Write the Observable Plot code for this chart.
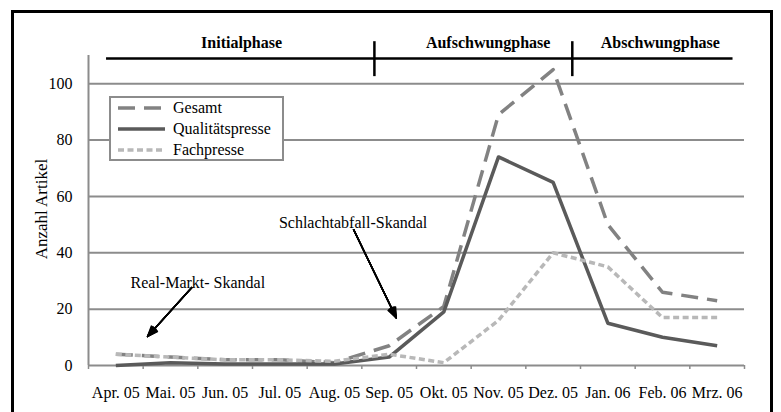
<!DOCTYPE html>
<html><head><meta charset="utf-8">
<script src="https://cdn.jsdelivr.net/npm/d3@7"></script>
<script src="https://cdn.jsdelivr.net/npm/@observablehq/plot@0.6"></script>
<style>
body{margin:0;background:#fff;}
#wrap{position:relative;width:781px;height:412px;overflow:hidden;font-family:"Times New Roman","Liberation Serif",Times,serif;background:#fff;}
#frame{position:absolute;left:11px;top:10px;width:762px;height:440px;border:3px solid #000;box-sizing:border-box;pointer-events:none;}
#legend{position:absolute;left:109px;top:96px;}
</style></head><body>
<div id="wrap"><div id="chart"></div><div id="legend"></div><div id="frame"></div></div>
<script>
// ---- data ----
const months = ["Apr. 05","Mai. 05","Jun. 05","Jul. 05","Aug. 05","Sep. 05","Okt. 05","Nov. 05","Dez. 05","Jan. 06","Feb. 06","Mrz. 06"];
const gesamt = [4, 3, 2, 2, 1, 7, 21, 89, 105, 50, 26, 23];
const qualitaetspresse = [0, 1, 0.5, 0.5, 0.5, 3, 19, 74, 65, 15, 10, 7];
const fachpresse = [4, 3, 2, 2, 1.5, 4, 1, 16, 40, 35, 17, 17];
const seriesNames = ["Gesamt", "Qualitätspresse", "Fachpresse"];
const yTicks = [0, 20, 40, 60, 80, 100];
const yTitle = "Anzahl Artikel";
const phaseNames = ["Initialphase", "Aufschwungphase", "Abschwungphase"];
const annotationTexts = ["Schlachtabfall-Skandal", "Real-Markt- Skandal"];

// ---- annotation placement (in data units: x = month index, y = Anzahl) ----
const phaseLabelX = [2.3, 6.81, 9.96];
const phaseLabelY = 114.4;
const phaseBarX = [-0.17, 11.29];
const phaseBarY = 108.9;
const phaseDividerX = [4.73, 8.35];
const phaseDividerY = [102.5, 114.9];
const annotationPos = [[4.34, 50.7], [1.5, 29.4]];
const arrowPos = [[4.35, 48.2, 5.13, 16.9], [1.39, 27.7, 0.58, 10.3]];

// ---- styles ----
const FONT = "'Times New Roman', 'Liberation Serif', Times, serif";
const seriesStyle = {
  "Gesamt": {stroke: "#828282", dash: "17,9"},
  "Qualitätspresse": {stroke: "#5a5a5a", dash: null},
  "Fachpresse": {stroke: "#b8b8b8", dash: "6,3.5"}
};
const gridColor = "#8c8c8c";

const seriesValues = [gesamt, qualitaetspresse, fachpresse];
const idx = months.map((_, i) => i);
const boundaries = d3.range(-0.5, 12, 1);

const lineMarks = seriesNames.map((name, s) => Plot.line(seriesValues[s], {
  x: (d, i) => i, y: d => d,
  stroke: seriesStyle[name].stroke, strokeWidth: 3.5,
  strokeDasharray: seriesStyle[name].dash || undefined,
  strokeLinejoin: "round", strokeLinecap: "butt"
}));

// filled-looking arrowheads: overlay heads of decreasing angle
const arrowMarks = [44, 36, 28, 20, 12, 4].map(a => Plot.arrow(arrowPos, {
  x1: d => d[0], y1: d => d[1], x2: d => d[2], y2: d => d[3],
  stroke: "#000", strokeWidth: 1.5, headLength: 11, headAngle: a
}));

const chart = Plot.plot({
  width: 781, height: 412,
  marginLeft: 88, marginRight: 37, marginTop: 55, marginBottom: 47,
  x: {domain: [-0.5, 11.5]},
  y: {domain: [0, 110]},
  style: {fontFamily: FONT, fontSize: "16px", background: "transparent", color: "#000", overflow: "visible"},
  marks: [
    Plot.ruleY(yTicks.filter(d => d > 0), {stroke: gridColor, strokeWidth: 2}),
    Plot.ruleY([0], {stroke: gridColor, strokeWidth: 2}),
    Plot.ruleX([-0.5], {y1: 0, y2: 110, stroke: gridColor, strokeWidth: 2}),
    Plot.axisX({ticks: boundaries, tickSize: 4, tickFormat: () => "", stroke: gridColor, strokeWidth: 1.5}),
    Plot.axisX({ticks: idx, tickSize: 0, tickPadding: 21, tickFormat: i => months[i], fontSize: 16, label: null}),
    Plot.axisY({ticks: yTicks, tickSize: 0, tickPadding: 16, fontSize: 16, label: null}),
    Plot.text([yTitle], {x: -0.5, y: 55.5, dx: -47, rotate: -90, fontSize: 17, text: d => d}),
    ...lineMarks,
    // phase bar
    Plot.ruleY([phaseBarY], {x1: phaseBarX[0], x2: phaseBarX[1], stroke: "#000", strokeWidth: 2.5}),
    Plot.ruleX(phaseDividerX, {y1: phaseDividerY[0], y2: phaseDividerY[1], stroke: "#000", strokeWidth: 2.5}),
    Plot.text(phaseNames, {x: (d, i) => phaseLabelX[i], y: phaseLabelY, text: d => d, fontWeight: "bold", fontSize: 16}),
    // annotations
    Plot.text(annotationTexts, {x: (d, i) => annotationPos[i][0], y: (d, i) => annotationPos[i][1], text: d => d, fontSize: 16}),
    ...arrowMarks
  ]
});
document.getElementById("chart").appendChild(chart);

// legend
const rowsY = [12, 33, 54];
let lg = `<svg width="176" height="66" style="display:block;font-family:${FONT.replace(/'/g, "&quot;")}"><rect x="1" y="1" width="173" height="63" fill="#fff" stroke="${gridColor}" stroke-width="2"/>`;
seriesNames.forEach((name, i) => {
  const st = seriesStyle[name];
  lg += `<line x1="9" x2="56" y1="${rowsY[i]}" y2="${rowsY[i]}" stroke="${st.stroke}" stroke-width="3.5" ${st.dash ? `stroke-dasharray="${st.dash}"` : ""}/>`;
  lg += `<text x="64" y="${rowsY[i]}" dy="0.32em" font-size="16" fill="#000">${name}</text>`;
});
lg += `</svg>`;
document.getElementById("legend").innerHTML = lg;
</script>
</body></html>
